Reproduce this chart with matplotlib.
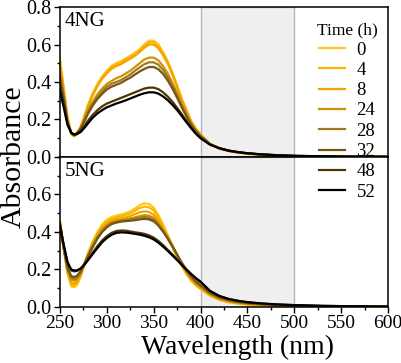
import matplotlib.pyplot as plt
from matplotlib.ticker import MultipleLocator, FixedLocator

plt.rcParams['font.family'] = ['Liberation Serif', 'DejaVu Serif']

# wavelength grid (nm)
wl = [250, 254, 258, 262, 265, 268, 272, 276, 280, 285, 290, 295, 300, 305,
      310, 315, 320, 325, 330, 335, 340, 345, 350, 355, 360, 365, 370, 375,
      380, 385, 390, 395, 400, 410, 420, 430, 440, 450, 465, 480, 500, 530,
      560, 600]

times = ['0', '4', '8', '24', '28', '32', '48', '52']
colors = ['#ffc61a', '#ffb600', '#f0a500', '#cf9300', '#a37b1e', '#765615', '#503500', '#000000']

# 4NG absorbance
ng4_0 = [0.52, 0.37, 0.215, 0.125, 0.11, 0.12, 0.16, 0.22, 0.28, 0.34, 0.39, 0.43, 0.46, 0.485,
         0.50, 0.51, 0.525, 0.54, 0.555, 0.575, 0.60, 0.62, 0.62, 0.60, 0.56, 0.51, 0.45, 0.38,
         0.31, 0.25, 0.19, 0.15, 0.12, 0.07, 0.046, 0.032, 0.024, 0.018, 0.012, 0.008, 0.005, 0.003,
         0.002, 0.001]
ng4_4 = [0.51, 0.36, 0.21, 0.125, 0.112, 0.122, 0.16, 0.215, 0.275, 0.335, 0.385, 0.425, 0.455, 0.48,
         0.495, 0.505, 0.52, 0.535, 0.55, 0.57, 0.595, 0.612, 0.612, 0.592, 0.553, 0.505, 0.445, 0.376,
         0.307, 0.248, 0.19, 0.15, 0.12, 0.07, 0.046, 0.032, 0.024, 0.018, 0.012, 0.008, 0.005, 0.003,
         0.002, 0.001]
ng4_8 = [0.50, 0.355, 0.205, 0.125, 0.113, 0.123, 0.158, 0.21, 0.27, 0.33, 0.378, 0.417, 0.447, 0.47,
         0.485, 0.495, 0.51, 0.525, 0.54, 0.56, 0.583, 0.60, 0.60, 0.58, 0.543, 0.497, 0.44, 0.372,
         0.304, 0.245, 0.188, 0.148, 0.118, 0.07, 0.046, 0.032, 0.024, 0.018, 0.012, 0.008, 0.005, 0.003,
         0.002, 0.001]
ng4_24 = [0.46, 0.33, 0.195, 0.125, 0.115, 0.125, 0.155, 0.20, 0.25, 0.295, 0.335, 0.365, 0.39, 0.405,
          0.42, 0.43, 0.445, 0.46, 0.48, 0.50, 0.52, 0.53, 0.53, 0.515, 0.485, 0.445, 0.395, 0.34,
          0.28, 0.228, 0.178, 0.14, 0.113, 0.069, 0.046, 0.033, 0.025, 0.019, 0.013, 0.009, 0.005, 0.003,
          0.002, 0.001]
ng4_28 = [0.44, 0.32, 0.19, 0.125, 0.116, 0.126, 0.153, 0.195, 0.24, 0.285, 0.32, 0.35, 0.375, 0.39,
          0.40, 0.41, 0.425, 0.44, 0.46, 0.478, 0.495, 0.505, 0.505, 0.492, 0.465, 0.427, 0.38, 0.328,
          0.272, 0.222, 0.175, 0.138, 0.112, 0.069, 0.046, 0.033, 0.025, 0.019, 0.013, 0.009, 0.005, 0.003,
          0.002, 0.001]
ng4_32 = [0.42, 0.31, 0.185, 0.125, 0.117, 0.127, 0.15, 0.19, 0.232, 0.275, 0.31, 0.337, 0.36, 0.375,
          0.385, 0.395, 0.41, 0.423, 0.44, 0.456, 0.47, 0.48, 0.48, 0.468, 0.443, 0.408, 0.365, 0.316,
          0.264, 0.216, 0.171, 0.135, 0.11, 0.068, 0.046, 0.033, 0.025, 0.019, 0.013, 0.009, 0.006, 0.003,
          0.002, 0.001]
ng4_48 = [0.38, 0.285, 0.178, 0.13, 0.12, 0.125, 0.14, 0.165, 0.195, 0.225, 0.25, 0.27, 0.285, 0.295,
          0.305, 0.315, 0.325, 0.335, 0.345, 0.355, 0.365, 0.37, 0.37, 0.362, 0.345, 0.322, 0.295, 0.262,
          0.228, 0.192, 0.158, 0.127, 0.103, 0.067, 0.047, 0.034, 0.026, 0.02, 0.014, 0.01, 0.006, 0.004,
          0.002, 0.001]
ng4_52 = [0.35, 0.265, 0.172, 0.13, 0.12, 0.122, 0.133, 0.155, 0.18, 0.21, 0.233, 0.25, 0.265, 0.275,
          0.285, 0.293, 0.302, 0.312, 0.322, 0.332, 0.34, 0.345, 0.345, 0.338, 0.323, 0.303, 0.278, 0.25,
          0.218, 0.185, 0.153, 0.124, 0.10, 0.066, 0.047, 0.034, 0.026, 0.02, 0.014, 0.01, 0.006, 0.004,
          0.002, 0.001]

# 5NG absorbance
ng5_0 = [0.46, 0.31, 0.18, 0.11, 0.105, 0.115, 0.16, 0.23, 0.29, 0.35, 0.40, 0.44, 0.465, 0.48,
         0.487, 0.493, 0.50, 0.51, 0.525, 0.543, 0.553, 0.55, 0.53, 0.49, 0.44, 0.385, 0.33, 0.275,
         0.22, 0.175, 0.14, 0.115, 0.095, 0.06, 0.038, 0.025, 0.018, 0.013, 0.009, 0.006, 0.004, 0.002,
         0.001, 0.0]
ng5_4 = [0.455, 0.31, 0.185, 0.12, 0.115, 0.125, 0.165, 0.23, 0.285, 0.345, 0.392, 0.43, 0.455, 0.47,
         0.478, 0.485, 0.49, 0.50, 0.513, 0.528, 0.535, 0.532, 0.515, 0.478, 0.43, 0.378, 0.325, 0.272,
         0.22, 0.177, 0.143, 0.118, 0.098, 0.062, 0.04, 0.027, 0.019, 0.014, 0.01, 0.007, 0.004, 0.002,
         0.001, 0.0]
ng5_8 = [0.45, 0.31, 0.19, 0.13, 0.125, 0.135, 0.17, 0.228, 0.28, 0.34, 0.385, 0.42, 0.445, 0.46,
         0.468, 0.473, 0.478, 0.485, 0.495, 0.505, 0.51, 0.507, 0.492, 0.46, 0.417, 0.37, 0.32, 0.27,
         0.222, 0.18, 0.147, 0.122, 0.102, 0.065, 0.042, 0.029, 0.021, 0.015, 0.011, 0.008, 0.005, 0.003,
         0.002, 0.001]
ng5_24 = [0.45, 0.315, 0.20, 0.145, 0.14, 0.148, 0.178, 0.228, 0.275, 0.33, 0.375, 0.41, 0.435, 0.45,
          0.458, 0.463, 0.467, 0.472, 0.478, 0.485, 0.49, 0.487, 0.475, 0.447, 0.41, 0.368, 0.322, 0.275,
          0.228, 0.187, 0.154, 0.128, 0.108, 0.07, 0.046, 0.032, 0.024, 0.018, 0.013, 0.009, 0.006, 0.004,
          0.002, 0.001]
ng5_28 = [0.445, 0.315, 0.205, 0.155, 0.15, 0.157, 0.183, 0.228, 0.272, 0.325, 0.37, 0.405, 0.43, 0.446,
          0.455, 0.46, 0.463, 0.467, 0.472, 0.477, 0.48, 0.477, 0.466, 0.44, 0.405, 0.365, 0.322, 0.277,
          0.232, 0.192, 0.159, 0.132, 0.112, 0.073, 0.049, 0.035, 0.026, 0.02, 0.014, 0.01, 0.007, 0.004,
          0.002, 0.001]
ng5_32 = [0.44, 0.315, 0.21, 0.165, 0.16, 0.166, 0.19, 0.23, 0.27, 0.32, 0.365, 0.40, 0.425, 0.442,
          0.45, 0.455, 0.458, 0.46, 0.463, 0.467, 0.47, 0.467, 0.457, 0.434, 0.402, 0.365, 0.324, 0.28,
          0.237, 0.197, 0.164, 0.137, 0.116, 0.076, 0.051, 0.037, 0.028, 0.021, 0.015, 0.011, 0.007, 0.004,
          0.003, 0.001]
ng5_48 = [0.44, 0.33, 0.235, 0.195, 0.19, 0.192, 0.205, 0.228, 0.255, 0.29, 0.325, 0.355, 0.378, 0.395,
          0.405, 0.408, 0.407, 0.403, 0.398, 0.395, 0.39, 0.382, 0.37, 0.352, 0.33, 0.305, 0.28, 0.253,
          0.226, 0.20, 0.176, 0.154, 0.135, 0.085, 0.058, 0.042, 0.032, 0.025, 0.018, 0.014, 0.01, 0.006,
          0.004, 0.002]
ng5_52 = [0.43, 0.33, 0.24, 0.20, 0.195, 0.195, 0.205, 0.225, 0.25, 0.283, 0.315, 0.345, 0.368, 0.385,
          0.395, 0.398, 0.397, 0.394, 0.39, 0.386, 0.38, 0.372, 0.36, 0.343, 0.322, 0.299, 0.275, 0.25,
          0.224, 0.199, 0.175, 0.153, 0.134, 0.086, 0.059, 0.043, 0.033, 0.026, 0.019, 0.014, 0.01, 0.006,
          0.004, 0.002]

ng4 = [ng4_0, ng4_4, ng4_8, ng4_24, ng4_28, ng4_32, ng4_48, ng4_52]
ng5 = [ng5_0, ng5_4, ng5_8, ng5_24, ng5_28, ng5_32, ng5_48, ng5_52]

fig = plt.figure(figsize=(4.01, 3.63), dpi=100)
ax1 = fig.add_axes([0.1496, 0.5675, 0.818, 0.4132])
ax2 = fig.add_axes([0.1496, 0.1543, 0.818, 0.4132])

handles = []
for ax, series, name in [(ax1, ng4, '4NG'), (ax2, ng5, '5NG')]:
    ax.axvspan(400, 500, facecolor='#efefef', edgecolor='#b4b4b4', linewidth=1.0, zorder=0)
    for y, c, t in zip(series, colors, times):
        ln, = ax.plot(wl, y, color=c, linewidth=1.6, label=t, zorder=2)
        if ax is ax1:
            handles.append(ln)
    ax.set_xlim(250, 600)
    ax.set_ylim(0, 0.8)
    ax.xaxis.set_major_locator(MultipleLocator(50))
    ax.xaxis.set_minor_locator(MultipleLocator(25))
    ax.yaxis.set_minor_locator(MultipleLocator(0.1))
    ax.tick_params(which='both', direction='out', labelsize=14.5, width=1.0, pad=2)
    ax.tick_params(axis='x', labelsize=14)
    ax.tick_params(which='major', length=4)
    ax.tick_params(which='minor', length=2.5)
    for s in ax.spines.values():
        s.set_linewidth(1.1)
    ax.text(0.015, 0.965, name, transform=ax.transAxes, fontsize=15, va='top', ha='left')

ax1.yaxis.set_major_locator(FixedLocator([0.0, 0.2, 0.4, 0.6, 0.8]))
ax1.set_yticklabels(['0.0', '0.2', '0.4', '0.6', '0.8'])
ax1.tick_params(which='both', bottom=False, labelbottom=False)
ax2.yaxis.set_major_locator(FixedLocator([0.0, 0.2, 0.4, 0.6]))
ax2.set_yticklabels(['0.0', '0.2', '0.4', '0.6'])
ax2.set_xlabel('Wavelength (nm)', fontsize=20)
ax2.xaxis.set_label_coords(0.54, -0.185)

fig.text(0.033, 0.5675, 'Absorbance', rotation=90, fontsize=21.5, ha='center', va='center')

leg = fig.legend(handles=handles, title='Time (h)', loc='upper left',
                 bbox_to_anchor=(0.757, 0.975), frameon=False, fontsize=13.5,
                 title_fontsize=12.5, handlelength=1.4, handletextpad=0.6,
                 labelspacing=0.17, borderpad=0.2, alignment='center')

fig.savefig('out.png', dpi=100)
